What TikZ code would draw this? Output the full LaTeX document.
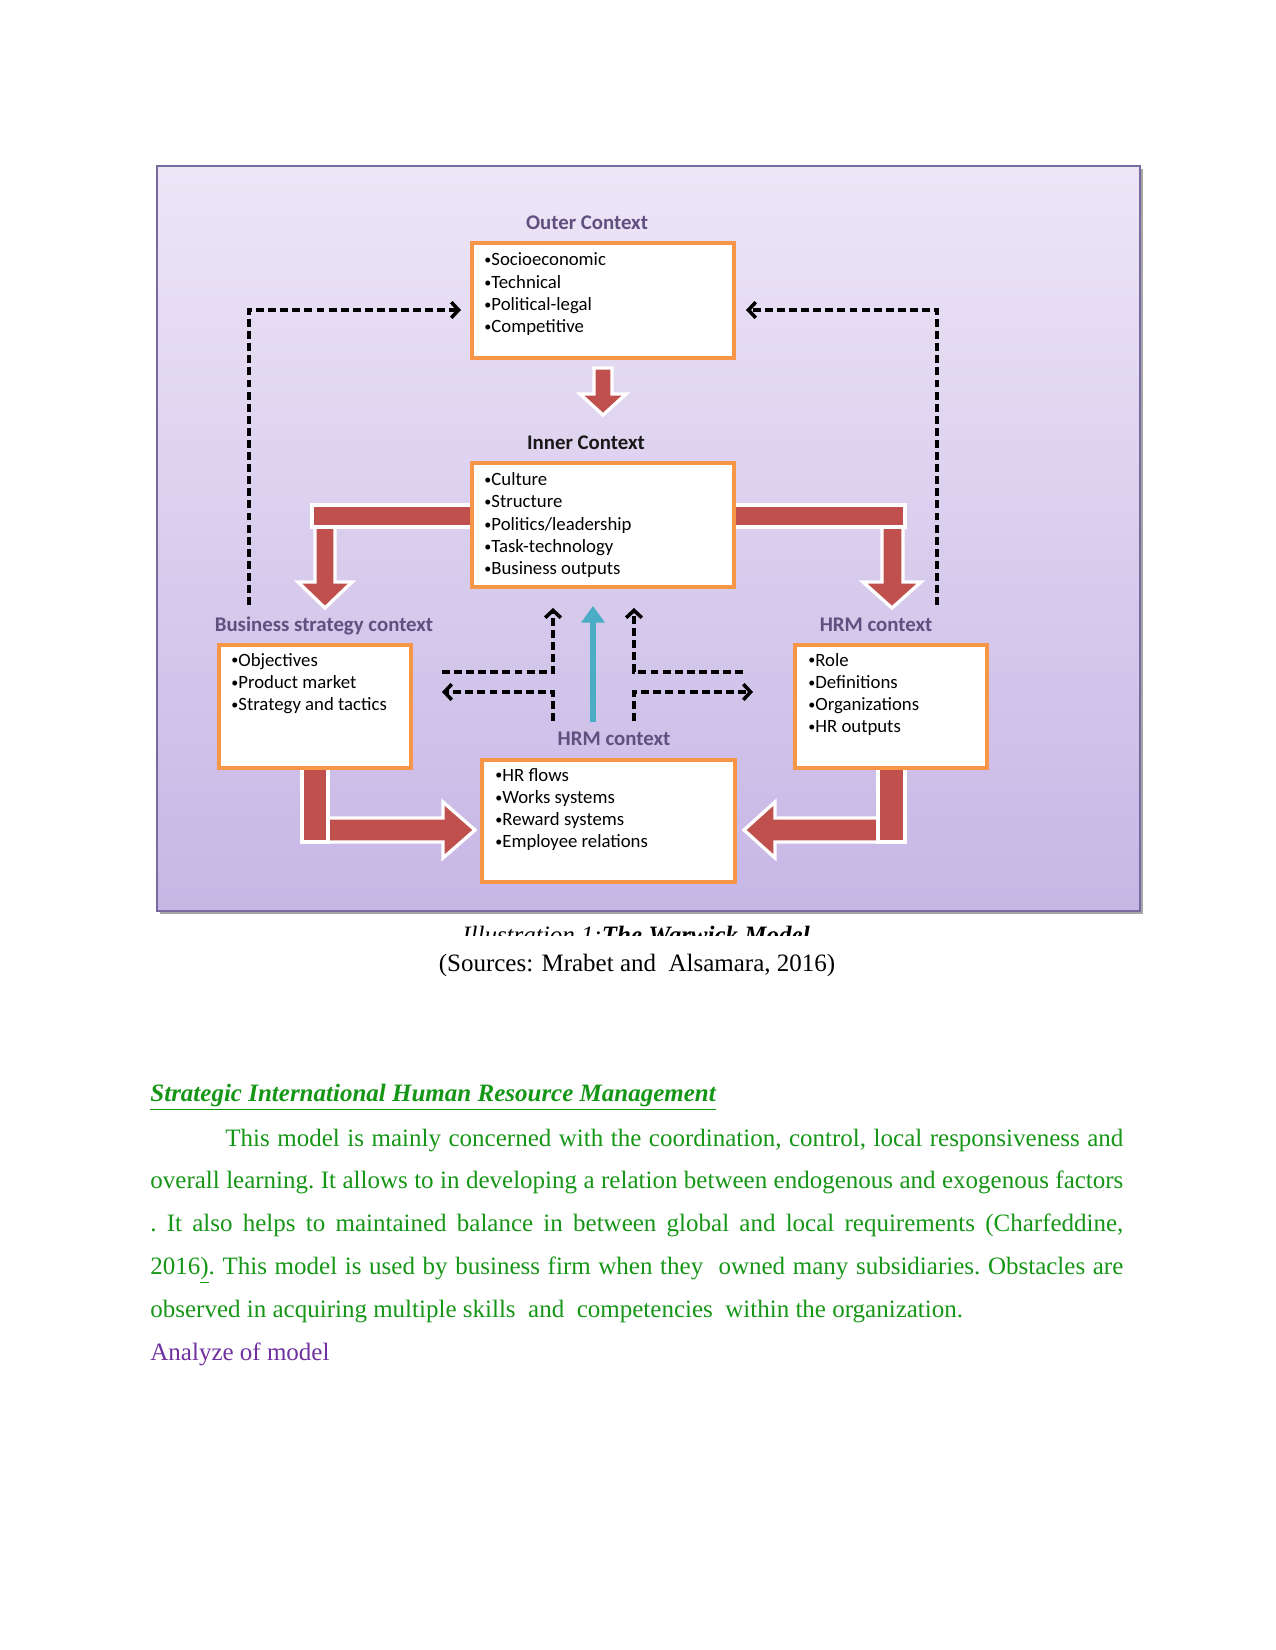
\documentclass[tikz,border=0pt]{standalone}
\usepackage{fontspec}
\setmainfont{Liberation Serif}
\newfontfamily\diagfont{Carlito}
\usetikzlibrary{arrows.meta}
\definecolor{bgtop}{RGB}{237,230,247}
\definecolor{bgbot}{RGB}{198,182,229}
\definecolor{framec}{RGB}{118,106,158}
\definecolor{boxorange}{RGB}{247,150,70}
\definecolor{blockred}{RGB}{192,80,77}
\definecolor{labelc}{RGB}{96,80,128}
\definecolor{hrmblue}{RGB}{75,172,198}
\definecolor{txtgreen}{RGB}{22,150,22}
\definecolor{txtpurple}{RGB}{112,48,160}
\newcommand\bul{\raisebox{0.12ex}{\scalebox{0.75}{•}}}
\begin{document}
\begin{tikzpicture}[x=0.48pt,y=-0.48pt,
  ctxbox/.style={draw=boxorange, line width=1.5pt, fill=white, inner sep=0pt},
  boxtext/.style={anchor=base west, inner sep=0pt},
  ctxlabel/.style={anchor=base, inner sep=0pt, text=labelc, font=\diagfont\bfseries\fontsize{10}{12}\selectfont},
  block/.style={fill=blockred, draw=white, line width=1.6pt, line join=miter},
  fb/.style={draw=black, line width=1.7pt, dash pattern=on 3.8pt off 2pt, -{Straight Barb[length=3.5pt,width=7.5pt]}},
  hrmup/.style={draw=hrmblue, line width=2.6pt, -{Triangle[length=8pt,width=11pt]}}
]
\useasboundingbox (0,0) rectangle (1275,1650);
% frame
\fill[black!35] (160,169) rectangle (1143,914);
\shade[top color=bgtop, bottom color=bgbot] (157,166) rectangle (1140,911);
\draw[framec, line width=1.2pt] (157,166) rectangle (1140,911);

% block arrows
\draw[block] (594,368) -- (612,368) -- (612,394) -- (626,394) -- (603,415) -- (580,394) -- (594,394) -- cycle;
\draw[block] (315,527) -- (335,527) -- (335,582) -- (352,582) -- (325,608) -- (298,582) -- (315,582) -- cycle;
\draw[block] (312,505) rectangle (474,527);
\draw[block] (882,527) -- (903,527) -- (903,582) -- (921,582) -- (892,608) -- (863,582) -- (882,582) -- cycle;
\draw[block] (732,505) rectangle (905,527);
\draw[block] (325,818) -- (443,818) -- (443,802) -- (475,830) -- (443,858) -- (443,842) -- (325,842) -- cycle;
\draw[block] (302,764) rectangle (328,842);
\draw[block] (880,818) -- (775,818) -- (775,802) -- (744,830) -- (775,858) -- (775,842) -- (880,842) -- cycle;
\draw[block] (878,764) rectangle (905,842);

% boxes
\node[ctxbox, minimum width=125.76pt, minimum height=55.2pt] (outer) at (603,300.5) {};
\node[ctxbox, minimum width=125.76pt, minimum height=59.52pt] (inner) at (603,525) {};
\node[ctxbox, minimum width=92.16pt, minimum height=59.04pt] (bsbox) at (315,706.5) {};
\node[ctxbox, minimum width=92.16pt, minimum height=59.04pt] (hrmbox) at (891,706.5) {};
\node[ctxbox, minimum width=121.44pt, minimum height=58.56pt] (hrbox) at (608.5,821) {};

% box texts
\node[boxtext] (outertxt) at (484,266) {\parbox[t]{120pt}{\diagfont\fontsize{9}{10.7}\selectfont
  \bul Socioeconomic\\\bul Technical\\\bul Political-legal\\\bul Competitive}};
\node[boxtext] (innertxt) at (484,485.5) {\parbox[t]{120pt}{\diagfont\fontsize{9}{10.7}\selectfont
  \bul Culture\\\bul Structure\\\bul Politics/leadership\\\bul Task-technology\\\bul Business outputs}};
\node[boxtext] (bstxt) at (231,666) {\parbox[t]{90pt}{\diagfont\fontsize{9}{10.7}\selectfont
  \bul Objectives\\\bul Product market\\\bul Strategy and tactics}};
\node[boxtext] (hrmtxt) at (808,666) {\parbox[t]{90pt}{\diagfont\fontsize{9}{10.7}\selectfont
  \bul Role\\\bul Definitions\\\bul Organizations\\\bul HR outputs}};
\node[boxtext] (hrtxt) at (495,781) {\parbox[t]{120pt}{\diagfont\fontsize{9}{10.7}\selectfont
  \bul HR flows\\\bul Works systems\\\bul Reward systems\\\bul Employee relations}};

% labels
\node[ctxlabel] (outerlab) at (587,230) {Outer Context};
\node[ctxlabel, text=black!90] (innerlab) at (586,449.5) {Inner Context};
\node[ctxlabel] (bslab) at (324,631) {Business strategy context};
\node[ctxlabel] (hrmlab) at (876,631) {HRM context};
\node[ctxlabel] (hrlab) at (614,745) {HRM context};

% dashed feedback arrows
\coordinate (bsTop) at (249,605);
\coordinate (oL) at (461,310);
\coordinate (hrTop) at (937,605);
\coordinate (oR) at (746,310);
\draw[fb] (bsTop) |- (oL);
\draw[fb] (hrTop) |- (oR);

\coordinate (cl1) at (442,672);
\coordinate (cl1t) at (553,608);
\coordinate (cl2b) at (553,721);
\coordinate (cl2) at (442,692);
\coordinate (cr1) at (743,672);
\coordinate (cr1t) at (634,608);
\coordinate (cr2b) at (634,721);
\coordinate (cr2) at (753,692);
\draw[fb] (cl1) -| (cl1t);
\draw[fb] (cl2b) |- (cl2);
\draw[fb] (cr1) -| (cr1t);
\draw[fb] (cr2b) |- (cr2);

% blue arrow
\coordinate (bluebot) at (593,722);
\coordinate (bluetop) at (593,606);
\draw[hrmup] (bluebot) -- (bluetop);

% caption (clipped)
\begin{scope}
\clip (300,900) rectangle (1000,935.5);
\node[anchor=base, inner sep=0pt] (caption) at (636,943) {\fontsize{12}{14}\selectfont\itshape Illustration 1:\bfseries The Warwick Model};
\end{scope}
\node[anchor=base, inner sep=0pt] (sources) at (637,971) {\fontsize{12}{14}\selectfont (Sources: Mrabet and\ \ Alsamara, 2016)};

% text below
\node[anchor=base west, inner sep=0pt, text=txtgreen] (heading) at (150,1101)
  {\fontsize{12}{14}\selectfont\bfseries\itshape\underline{Strategic International Human Resource Management}};
\node[anchor=base west, inner sep=0pt, text=txtgreen] (para) at (150,1146)
  {\parbox[t]{467pt}{\fontsize{12}{20.55}\selectfont\frenchspacing
  \hspace*{36pt}This model is mainly concerned with the coordination, control, local responsiveness and\linebreak
  overall learning. It allows to in developing a relation between endogenous and exogenous factors\linebreak
  . It also helps to maintained balance in between global and local requirements (Charfeddine,\linebreak
  2016\underline{)}. This model is used by business firm when they\ \ owned many subsidiaries. Obstacles are\linebreak
  observed in acquiring multiple skills\ \ and\ \ competencies\ \ within the organization.\par}};
\node[anchor=base west, inner sep=0pt, text=txtpurple] (analyze) at (150,1360)
  {\fontsize{12}{14}\selectfont Analyze of model};
\end{tikzpicture}
\end{document}
